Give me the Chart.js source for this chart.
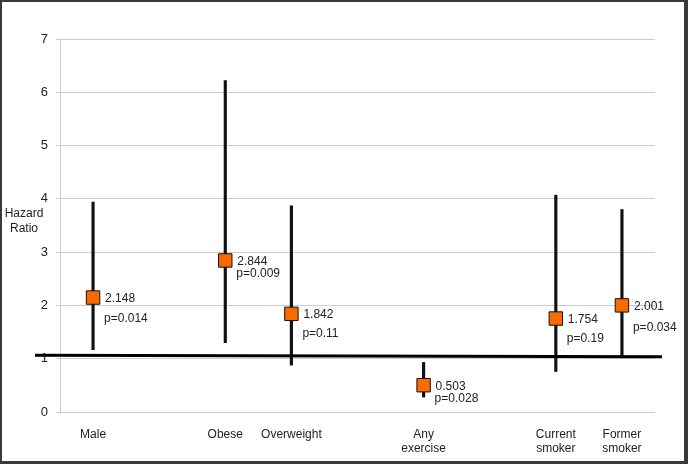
<!DOCTYPE html>
<html>
<head>
<meta charset="utf-8">
<script src="https://cdn.jsdelivr.net/npm/chart.js@4/dist/chart.umd.min.js"></script>
<style>
  body { margin: 0; background: #fff; }
  #wrap { position: relative; width: 688px; height: 464px; }
  #frame { position: absolute; left: 0; top: 0; width: 688px; height: 464px; box-sizing: border-box;
           border-style: solid; border-color: #3a3a3a; border-width: 2px 4px 3px 2px; pointer-events: none; }
</style>
</head>
<body>
<div id="wrap">
  <canvas id="myChart" width="688" height="464"></canvas>
  <div id="frame"></div>
</div>
<script>
var categories = ['Male', '', 'Obese', 'Overweight', '', ['Any', 'exercise'], '', ['Current', 'smoker'], ['Former', 'smoker']];
var hazard = [2.148, null, 2.844, 1.842, null, 0.503, null, 1.754, 2.001];
var lower = [1.17, null, 1.30, 0.88, null, 0.28, null, 0.76, 1.03];
var upper = [3.94, null, 6.22, 3.87, null, 0.93, null, 4.07, 3.80];
var pValues = ['p=0.014', null, 'p=0.009', 'p=0.11', null, 'p=0.028', null, 'p=0.19', 'p=0.034'];
var refLine = [1.065, 1.035];

var pOffset = [20, 0, 12, 19, 0, 12, 0, 19, 21];

var ranges = lower.map(function (lo, i) { return lo === null ? null : [lo, upper[i]]; });

var labelPlugin = {
    id: 'labels',
    afterDatasetsDraw: function (chart) {
        var ctx = chart.ctx;
        var x = chart.scales.x, y = chart.scales.y;
        ctx.save();
        // reference line at HR = 1
        ctx.strokeStyle = '#000';
        ctx.lineWidth = 3;
        ctx.beginPath();
        ctx.moveTo(35, y.getPixelForValue(refLine[0]));
        ctx.lineTo(662, y.getPixelForValue(refLine[1]));
        ctx.stroke();

        ctx.font = '12px "Liberation Sans", Arial, sans-serif';
        ctx.fillStyle = '#222';
        ctx.textBaseline = 'middle';
        ctx.textAlign = 'left';
        hazard.forEach(function (v, i) {
            if (v === null) return;
            var px = x.getPixelForValue(i), py = y.getPixelForValue(v);
            ctx.fillText(v.toFixed(3), px + 12, py + 1);
            ctx.fillText(pValues[i], px + 11, py + 1 + pOffset[i]);
        });

        ctx.textAlign = 'center';
        ctx.fillText('Hazard', 24, 214);
        ctx.fillText('Ratio', 24, 229);
        ctx.restore();
    }
};

var ctx = document.getElementById('myChart').getContext('2d');

var myChart = new Chart(ctx, {
    data: {
        labels: categories,
        datasets: [{
            type: 'line',
            label: 'Hazard ratio',
            data: hazard,
            showLine: false,
            pointStyle: 'rect',
            pointRadius: 9.5,
            pointHoverRadius: 9.5,
            pointBackgroundColor: '#f96a00',
            pointBorderColor: '#111',
            pointBorderWidth: 1,
            order: 1
        }, {
            type: 'bar',
            label: '95% CI',
            data: ranges,
            backgroundColor: '#111',
            barThickness: 2.5,
            order: 2
        }]
    },
    options: {
        responsive: false,
        animation: false,
        layout: {
            padding: { left: 0, right: 33, top: 39, bottom: 0 }
        },
        plugins: {
            legend: { display: false },
            tooltip: { enabled: false }
        },
        scales: {
            x: {
                offset: true,
                grid: { display: false },
                border: { display: false },
                ticks: {
                    color: '#222',
                    padding: 7,
                    maxRotation: 0,
                    autoSkip: false,
                    font: { family: '"Liberation Sans", Arial, sans-serif', size: 12 }
                },
                afterFit: function (scale) { scale.height = 52; }
            },
            y: {
                min: 0,
                max: 7,
                grid: { color: '#cccccc', tickLength: 4 },
                border: { color: '#cccccc' },
                ticks: {
                    stepSize: 1,
                    color: '#222',
                    padding: 8,
                    font: { family: '"Liberation Sans", Arial, sans-serif', size: 13 }
                },
                afterFit: function (scale) { scale.width = 60; }
            }
        }
    },
    plugins: [labelPlugin]
});
</script>
</body>
</html>
